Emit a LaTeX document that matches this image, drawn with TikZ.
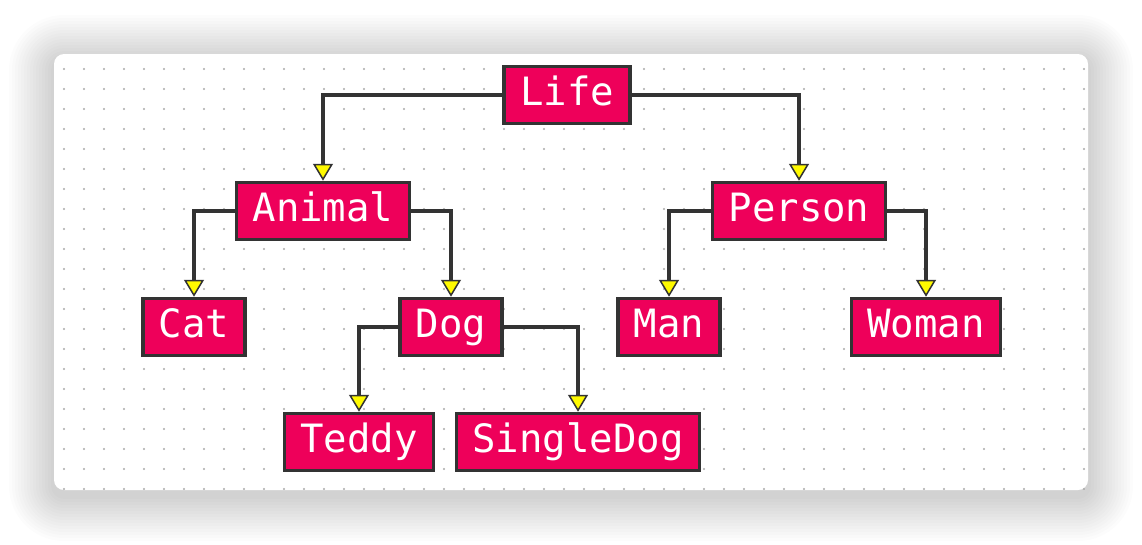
\documentclass[tikz,border=0pt]{standalone}
\usepackage{fontspec}
\setmonofont{DejaVu Sans Mono}
\usetikzlibrary{arrows.meta}
\definecolor{boxred}{RGB}{238,0,90}
\definecolor{edge}{RGB}{51,51,51}
\definecolor{tip}{RGB}{255,250,0}
\definecolor{dot}{RGB}{170,170,170}
\begin{document}
\begin{tikzpicture}[x=1pt, y=-1pt,
  cls/.style={draw=edge, line width=3.5pt, fill=boxred, text=white,
    font=\ttfamily\fontsize{39}{41}\selectfont, minimum height=57pt,
    inner xsep=16pt, inner ysep=0pt, text height=28pt, text depth=8pt},
  link/.style={draw=edge, line width=3.5pt,
    -{Triangle[width=20pt, length=17pt, fill=tip, line width=1.5pt]}}]
  \useasboundingbox (0,0) rectangle (1142,544);
  % soft shadow
  \foreach \i in {1,...,15} {
    \pgfmathsetmacro\s{3*\i}
    \pgfmathsetmacro\r{10+\s}
    \fill[black, opacity=0.012, rounded corners=\r pt]
      (54-\s,54-\s+6) rectangle (1088+\s,490+\s+6);
  }
  \fill[white, rounded corners=10pt] (54,54) rectangle (1088,490);
  % dotted grid
  \foreach \x in {64,84,...,1084}
    \foreach \y in {69,89,...,489}
      \fill[dot] (\x,\y) circle (1.1pt);
  % classes
  \node[cls] (life) at (567,95) {Life};
  \node[cls] (animal) at (323,211) {Animal};
  \node[cls] (person) at (799,211) {Person};
  \node[cls] (cat) at (194,327) {Cat};
  \node[cls] (dog) at (451,327) {Dog};
  \node[cls] (man) at (669,327) {Man};
  \node[cls] (woman) at (926,327) {Woman};
  \node[cls] (teddy) at (359,442) {Teddy};
  \node[cls] (singledog) at (578,442) {SingleDog};
  % inheritance
  \draw[link] (life.west) -| (animal.north);
  \draw[link] (life.east) -| (person.north);
  \draw[link] (animal.west) -| (cat.north);
  \draw[link] (animal.east) -| (dog.north);
  \draw[link] (person.west) -| (man.north);
  \draw[link] (person.east) -| (woman.north);
  \draw[link] (dog.west) -| (teddy.north);
  \draw[link] (dog.east) -| (singledog.north);
\end{tikzpicture}
\end{document}
